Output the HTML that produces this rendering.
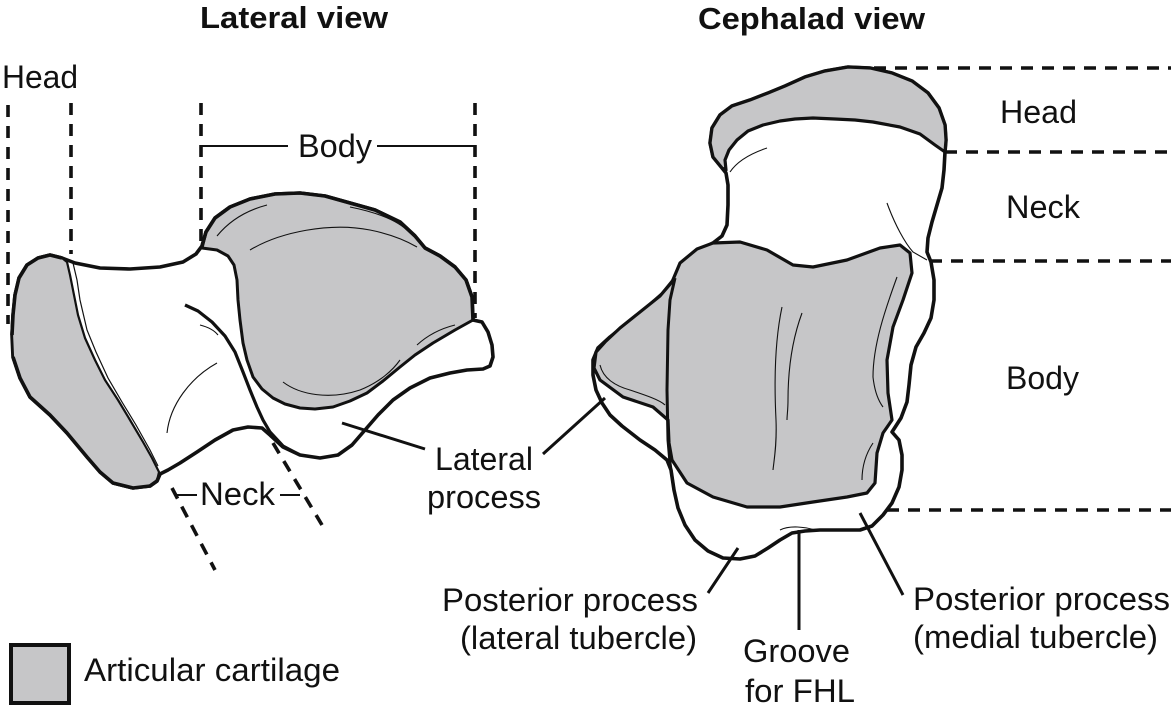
<!DOCTYPE html>
<html><head><meta charset="utf-8"><style>
html,body{margin:0;padding:0;background:#fff;}
svg{display:block;}
text{font-family:"Liberation Sans",Arial,sans-serif;fill:#111;}
</style></head><body>
<svg width="1171" height="711" viewBox="0 0 1171 711" xmlns="http://www.w3.org/2000/svg">
<rect width="1171" height="711" fill="#fff"/>

<!-- Titles -->
<text x="200" y="28" font-size="31" font-weight="bold" textLength="188" lengthAdjust="spacingAndGlyphs">Lateral view</text>
<text x="698" y="29" font-size="31" font-weight="bold" textLength="227" lengthAdjust="spacingAndGlyphs">Cephalad view</text>

<!-- ===== LATERAL VIEW ===== -->
<g stroke="#111" stroke-width="3.6" stroke-dasharray="12 9" fill="none">
  <line x1="8" y1="105" x2="8" y2="324"/>
  <line x1="71" y1="103" x2="71" y2="254"/>
  <line x1="201" y1="103" x2="201" y2="250"/>
  <line x1="475" y1="103" x2="475" y2="318"/>
  <line x1="172" y1="488" x2="215" y2="570"/>
  <line x1="273" y1="443" x2="322" y2="525"/>
</g>
<g stroke="#111" stroke-width="2" fill="none">
  <line x1="201" y1="146" x2="288" y2="146"/>
  <line x1="377" y1="146" x2="475" y2="146"/>
  <line x1="175" y1="495" x2="197" y2="495"/>
  <line x1="280" y1="495" x2="300" y2="495"/>
</g>

<!-- outer white body -->
<path fill="#fff" stroke="#111" stroke-width="3.6" stroke-linejoin="round" d="M50,255 L62,258 L75,263 L100,268 L130,269 L160,267 L183,262 L196,254 L202,246 L206,232 L215,218 L230,207 L250,199 L275,194 L300,193 L325,196 L350,203 L375,210 L400,222 L415,236 L425,248 L440,256 L455,267 L466,280 L472,297 L473,320 L482,322 L488,332 L492,345 L493,357 L490,366 L483,369 L467,370 L450,373 L430,378 L410,388 L393,400 L378,415 L365,430 L352,445 L338,455 L320,458 L300,455 L283,447 L270,435 L262,428 L248,427 L233,430 L215,440 L197,452 L180,463 L168,470 L160,474 L157,481 L150,486 L133,488 L113,483 L100,472 L87,457 L67,433 L50,415 L30,397 L20,378 L13,357 L12,335 L13,315 L15,295 L19,278 L27,265 L38,258 Z"/>

<!-- head cartilage -->
<path fill="#c6c6c8" stroke="#111" stroke-width="2.2" stroke-linejoin="round" d="M50,255 L62,258 L67,262 L70,275 L73,290 L78,315 L85,338 L95,360 L105,380 L118,400 L130,420 L143,442 L152,458 L159,472 L157,481 L150,486 L133,488 L113,483 L100,472 L87,457 L67,433 L50,415 L30,397 L20,378 L13,357 L12,335 L13,315 L15,295 L19,278 L27,265 L38,258 Z"/>
<path fill="none" stroke="#111" stroke-width="1.2" d="M73,263 L77,280 L80,300 L87,330 L96,352 L108,378 L122,402 L136,425 L150,450 L158,466"/>
<path fill="none" stroke="#111" stroke-width="3.6" stroke-linejoin="round" d="M12,335 L13,315 L15,295 L19,278 L27,265 L38,258 L50,255 L62,258 M13,357 L20,378 L30,397 L50,415 L67,433 L87,457 L100,472 L113,483 L133,488 L150,486 L157,481 L160,474"/>

<!-- body cartilage -->
<path fill="#c6c6c8" stroke="#111" stroke-width="3" stroke-linejoin="round" d="M202,248 L206,232 L215,218 L230,207 L250,199 L275,194 L300,193 L325,196 L350,203 L375,210 L400,222 L415,236 L425,248 L440,256 L455,267 L466,280 L472,297 L473,320 L455,330 L433,343 L415,355 L400,367 L383,381 L367,393 L350,401 L333,407 L315,409 L300,408 L285,404 L273,398 L262,389 L253,377 L247,360 L243,343 L240,320 L238,300 L237,280 L234,265 L228,256 L217,250 Z"/>
<path fill="none" stroke="#111" stroke-width="3.6" stroke-linejoin="round" d="M202,246 L206,232 L215,218 L230,207 L250,199 L275,194 L300,193 L325,196 L350,203 L375,210 L400,222 L415,236 L425,248 L440,256 L455,267 L466,280 L472,297 L473,320"/>
<!-- lateral process curve -->
<path fill="none" stroke="#111" stroke-width="3.2" stroke-linejoin="round" d="M185,305 L198,311 L212,322 L225,336 L235,352 L243,372 L250,390 L257,407 L263,420 L270,432 L283,446 L300,455"/>
<!-- thin lines -->
<g fill="none" stroke="#111" stroke-width="1.1">
  <path d="M167,433 C170,405 190,378 217,363"/>
  <path d="M200,325 C208,327 214,330 218,335"/>
  <path d="M217,236 C230,220 248,210 267,205"/>
  <path d="M250,250 C280,232 330,222 370,230 C390,234 405,240 417,247"/>
  <path d="M350,207 C380,213 400,222 410,233"/>
  <path d="M283,382 C300,395 330,400 360,390 C380,382 393,370 400,360"/>
  <path d="M417,345 C430,333 443,328 455,325"/>
</g>

<!-- leader lines lateral view -->
<g stroke="#111" stroke-width="3" fill="none">
  <line x1="342" y1="423" x2="425" y2="449"/>
</g>

<!-- ===== CEPHALAD VIEW ===== -->
<g stroke="#111" stroke-width="3.6" stroke-dasharray="12 9" fill="none">
  <line x1="853" y1="68" x2="1171" y2="68"/>
  <line x1="945" y1="152" x2="1171" y2="152"/>
  <line x1="930" y1="261" x2="1171" y2="261"/>
  <line x1="887" y1="510" x2="1171" y2="510"/>
</g>

<!-- outer outline -->
<path fill="#fff" stroke="#111" stroke-width="3.6" stroke-linejoin="round" d="M722,168 L713,157 L710,143 L712,128 L720,115 L732,106 L750,100 L768,93 L785,86 L805,77 L825,71 L848,67 L870,68 L892,73 L912,81 L928,93 L939,108 L945,125 L946,140 L945,152 L944,170 L942,188 L937,205 L932,222 L928,238 L927,252 L931,262 L934,280 L934,300 L931,318 L924,333 L916,347 L911,365 L909,385 L907,402 L901,418 L892,432 L899,440 L902,455 L902,470 L899,487 L892,503 L883,515 L872,526 L860,530 L840,530 L820,530 L805,531 L792,533 L780,540 L768,548 L755,556 L740,559 L723,558 L708,551 L695,540 L685,525 L678,508 L674,490 L671,470 L667,460 L655,450 L640,440 L622,426 L610,415 L602,403 L596,390 L593,375 L593,360 L598,348 L610,337 L625,325 L645,309 L662,294 L675,278 L688,262 L700,250 L713,243 L722,236 L727,225 L728,205 L728,185 L726,173 Z"/>

<!-- head cartilage -->
<path fill="#c6c6c8" stroke="#111" stroke-width="3.2" stroke-linejoin="round" d="M722,168 L713,157 L710,143 L712,128 L720,115 L732,106 L750,100 L768,93 L785,86 L805,77 L825,71 L848,67 L870,68 L892,73 L912,81 L928,93 L939,108 L945,125 L946,140 L945,152 L935,145 L920,134 L900,127 L873,122 L855,120 L835,119 L813,118 L795,119 L780,121 L763,125 L748,131 L737,140 L729,150 L725,160 L726,170 Z"/>
<path fill="none" stroke="#111" stroke-width="1.1" d="M767,148 C752,153 738,160 730,172"/>

<!-- body cartilage -->
<path fill="#c6c6c8" stroke="#111" stroke-width="3.2" stroke-linejoin="round" d="M680,263 L697,249 L713,243 L740,242 L767,250 L793,265 L813,267 L847,260 L880,248 L900,245 L910,253 L912,273 L903,300 L893,327 L887,360 L888,393 L892,420 L883,433 L877,453 L875,483 L867,493 L847,497 L813,502 L780,507 L747,507 L713,497 L687,483 L672,460 L669,443 L668,420 L653,407 L623,397 L600,380 L594,368 L596,352 L605,342 L620,328 L640,312 L660,296 L672,282 Z"/>
<!-- separation line -->
<path fill="none" stroke="#111" stroke-width="3" stroke-linejoin="round" d="M675,278 L670,300 L668,330 L667,390 L668,440 L670,463 L674,490"/>
<!-- thin lines in body -->
<g fill="none" stroke="#111" stroke-width="1.1">
  <path d="M782,307 C775,340 774,380 776,420 C777,445 774,460 773,470"/>
  <path d="M802,313 C792,340 788,370 788,400 C788,410 787,415 787,420"/>
  <path d="M897,277 C885,310 873,345 873,377 C875,395 880,403 883,407"/>
  <path d="M873,443 C865,455 862,468 862,480"/>
  <path d="M887,203 C895,225 905,243 913,252 L927,260"/>
  <path d="M600,365 C603,378 615,386 630,390 C645,395 660,400 665,405"/>
  <path d="M780,530 C790,525 805,527 815,530"/>
</g>

<!-- leader lines cephalad -->
<g stroke="#111" stroke-width="3" fill="none">
  <line x1="605" y1="398" x2="543" y2="454"/>
  <line x1="738" y1="548" x2="708" y2="593"/>
  <line x1="799" y1="530" x2="799" y2="630"/>
  <line x1="860" y1="513" x2="903" y2="595"/>
</g>

<!-- Labels -->
<g font-size="32">
  <text x="2" y="88" textLength="76" lengthAdjust="spacingAndGlyphs">Head</text>
  <text x="298" y="157" textLength="74" lengthAdjust="spacingAndGlyphs">Body</text>
  <text x="200" y="505" textLength="75" lengthAdjust="spacingAndGlyphs">Neck</text>
  <text x="435" y="470" textLength="98" lengthAdjust="spacingAndGlyphs">Lateral</text>
  <text x="427" y="508" textLength="114" lengthAdjust="spacingAndGlyphs">process</text>
  <text x="1000" y="123" textLength="77" lengthAdjust="spacingAndGlyphs">Head</text>
  <text x="1006" y="218" textLength="74" lengthAdjust="spacingAndGlyphs">Neck</text>
  <text x="1006" y="389" textLength="73" lengthAdjust="spacingAndGlyphs">Body</text>
  <text x="442" y="611" textLength="256" lengthAdjust="spacingAndGlyphs">Posterior process</text>
  <text x="460" y="649" textLength="237" lengthAdjust="spacingAndGlyphs">(lateral tubercle)</text>
  <text x="743" y="662" textLength="107" lengthAdjust="spacingAndGlyphs">Groove</text>
  <text x="745" y="702" textLength="110" lengthAdjust="spacingAndGlyphs">for FHL</text>
  <text x="913" y="610" textLength="257" lengthAdjust="spacingAndGlyphs">Posterior process</text>
  <text x="913" y="648" textLength="245" lengthAdjust="spacingAndGlyphs">(medial tubercle)</text>
  <text x="84" y="681" textLength="256" lengthAdjust="spacingAndGlyphs">Articular cartilage</text>
</g>

<!-- Legend -->
<rect x="11" y="645" width="58" height="58" fill="#c6c6c8" stroke="#111" stroke-width="4"/>
</svg>
</body></html>
